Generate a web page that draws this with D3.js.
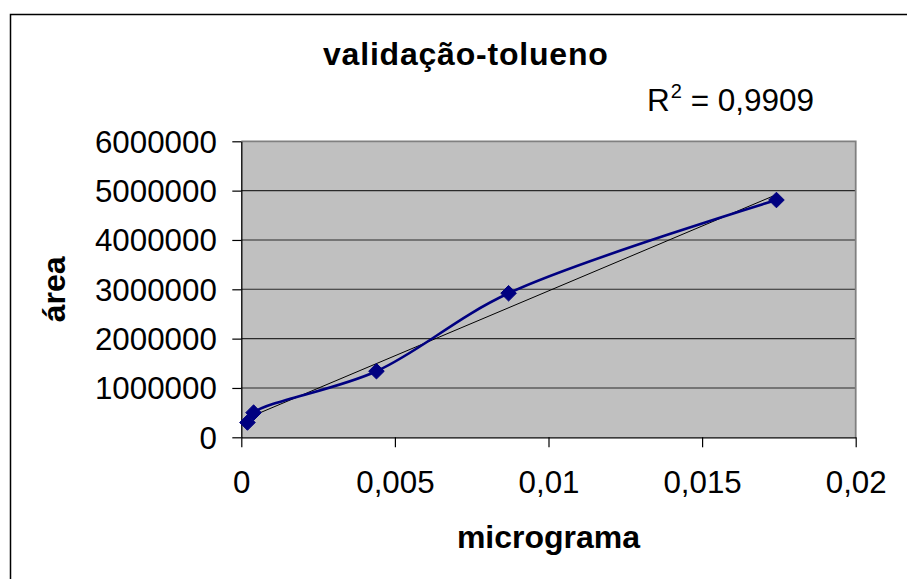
<!DOCTYPE html>
<html>
<head>
<meta charset="utf-8">
<script src="https://cdn.jsdelivr.net/npm/d3@7"></script>
<style>
  html, body { margin: 0; padding: 0; background: #fff; }
  svg { display: block; font-family: "Liberation Sans", Arial, sans-serif; }
</style>
</head>
<body>
<svg id="chart" width="907" height="579"></svg>
<script>
// ---- data ----
const microgramas = [0.0002, 0.0004, 0.0044, 0.0087, 0.01742];
const areas = [300000, 500000, 1340000, 2920000, 4810000];
const xTicks = [0, 0.005, 0.01, 0.015, 0.02];
const yTicks = [0, 1000000, 2000000, 3000000, 4000000, 5000000, 6000000];
const titleText = "validação-tolueno";
const xLabel = "micrograma";
const yLabel = "área";
const r2Value = "0,9909";

// ---- layout ----
const W = 907, H = 579;
const plot = { left: 241.3, right: 855.7, top: 141.3, bottom: 437.3 };
const svg = d3.select("#chart");

// outer chart border
svg.append("rect")
  .attr("x", 10.5).attr("y", 14.5)
  .attr("width", W + 20).attr("height", H + 20)
  .attr("fill", "#fff").attr("stroke", "#000").attr("stroke-width", 1.5);

const x = d3.scaleLinear().domain([xTicks[0], xTicks[xTicks.length - 1]]).range([plot.left, plot.right]);
const y = d3.scaleLinear().domain([yTicks[0], yTicks[yTicks.length - 1]]).range([plot.bottom, plot.top]);

// plot area background
svg.append("rect")
  .attr("x", plot.left).attr("y", plot.top)
  .attr("width", plot.right - plot.left).attr("height", plot.bottom - plot.top)
  .attr("fill", "#c0c0c0");

// gridlines
svg.append("g").selectAll("line")
  .data(yTicks.slice(1, -1))
  .join("line")
  .attr("x1", plot.left).attr("x2", plot.right)
  .attr("y1", d => y(d)).attr("y2", d => y(d))
  .attr("stroke", "#2a2a2a").attr("stroke-width", 1.1);

// plot border top/right (gray)
svg.append("path")
  .attr("d", `M${plot.left},${plot.top}H${plot.right}V${plot.bottom}`)
  .attr("fill", "none").attr("stroke", "#808080").attr("stroke-width", 1.8);

const fmtX = d => String(d).replace(".", ",");

// x axis
const gx = svg.append("g")
  .attr("transform", `translate(0,${plot.bottom})`)
  .call(d3.axisBottom(x).tickValues(xTicks).tickFormat(fmtX).tickSizeInner(10).tickSizeOuter(0));
gx.select(".domain").attr("stroke", "#000").attr("stroke-width", 1.3);
gx.selectAll(".tick line").attr("stroke", "#000").attr("stroke-width", 1.2);
gx.selectAll(".tick text")
  .attr("y", 55.7).attr("dy", 0)
  .attr("font-size", 31.3).attr("fill", "#000")
  .attr("font-family", "Liberation Sans, Arial, sans-serif");

// y axis
const gy = svg.append("g")
  .attr("transform", `translate(${plot.left},0)`)
  .call(d3.axisLeft(y).tickValues(yTicks).tickFormat(d3.format("d")).tickSizeInner(9).tickSizeOuter(0));
gy.select(".domain").attr("stroke", "#000").attr("stroke-width", 1.3);
gy.selectAll(".tick line").attr("stroke", "#000").attr("stroke-width", 1.2);
gy.selectAll(".tick text")
  .attr("x", -24.5).attr("dy", "0.35em")
  .attr("font-size", 31.3).attr("fill", "#000")
  .attr("font-family", "Liberation Sans, Arial, sans-serif");

// linear trendline (least squares over the data)
const n = microgramas.length;
const mx = d3.mean(microgramas), my = d3.mean(areas);
let sxy = 0, sxx = 0;
for (let i = 0; i < n; i++) {
  sxy += (microgramas[i] - mx) * (areas[i] - my);
  sxx += (microgramas[i] - mx) ** 2;
}
const slope = sxy / sxx, intercept = my - slope * mx;
const xMin = d3.min(microgramas), xMax = d3.max(microgramas);
svg.append("line")
  .attr("x1", x(xMin)).attr("y1", y(intercept + slope * xMin))
  .attr("x2", x(xMax)).attr("y2", y(intercept + slope * xMax))
  .attr("stroke", "#000").attr("stroke-width", 1);

// smoothed series line
const pts = microgramas.map((m, i) => [m, areas[i]]);
const line = d3.line()
  .x(d => x(d[0])).y(d => y(d[1]))
  .curve(d3.curveCatmullRom.alpha(0.5));
svg.append("path")
  .datum(pts)
  .attr("d", line)
  .attr("fill", "none").attr("stroke", "#000080").attr("stroke-width", 2.6);

// diamond markers
const rr = 7.8;
svg.append("g").selectAll("path")
  .data(pts)
  .join("path")
  .attr("transform", d => `translate(${x(d[0])},${y(d[1])})`)
  .attr("d", `M0,${-rr}L${rr},0L0,${rr}L${-rr},0Z`)
  .attr("fill", "#000080").attr("stroke", "#000080").attr("stroke-width", 1);

// title
svg.append("text")
  .attr("x", 323).attr("y", 65)
  .attr("text-anchor", "start")
  .attr("font-size", 32).attr("font-weight", "bold")
  .attr("letter-spacing", 0.8)
  .text(titleText);

// R² label
const r2 = svg.append("text")
  .attr("x", 647).attr("y", 111)
  .attr("font-size", 31.5);
r2.append("tspan").text("R");
r2.append("tspan").attr("font-size", 20).attr("dx", 1).attr("dy", -13).text("2");
r2.append("tspan").attr("dy", 13).text(" = " + r2Value);

// axis titles
svg.append("text")
  .attr("x", (plot.left + plot.right) / 2).attr("y", 548)
  .attr("text-anchor", "middle")
  .attr("font-size", 32).attr("font-weight", "bold")
  .text(xLabel);

svg.append("text")
  .attr("transform", `translate(65,${(plot.top + plot.bottom) / 2}) rotate(-90)`)
  .attr("text-anchor", "middle")
  .attr("font-size", 32).attr("font-weight", "bold")
  .text(yLabel);
</script>
</body>
</html>
